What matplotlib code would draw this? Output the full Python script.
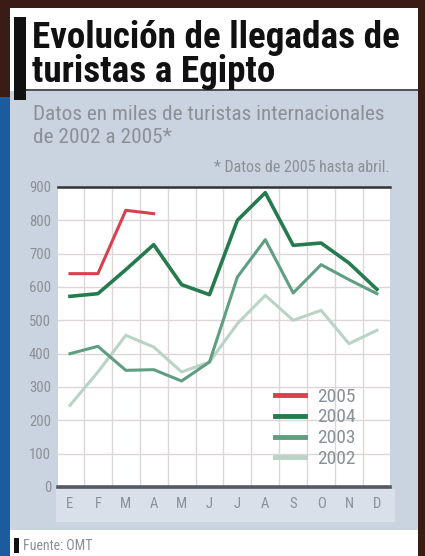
import matplotlib.pyplot as plt
from matplotlib.patches import Rectangle

# datos (miles de turistas)
meses = ['E', 'F', 'M', 'A', 'M', 'J', 'J', 'A', 'S', 'O', 'N', 'D']
y2005 = [640, 640, 830, 820]
y2004 = [572, 580, 652, 727, 607, 577, 800, 883, 725, 732, 672, 593]
y2003 = [400, 422, 350, 352, 318, 375, 630, 742, 582, 667, 622, 580]
y2002 = [245, 345, 455, 420, 345, 375, 490, 575, 500, 530, 430, 470]
yticks = [0, 100, 200, 300, 400, 500, 600, 700, 800, 900]

fuente = ['Roboto Condensed', 'DejaVu Sans']
gris = '#8a9098'

W, H = 425, 556
fig = plt.figure(figsize=(W / 100, H / 100), dpi=100)
fig.patch.set_facecolor('#3b1c14')


def box(x0, y0, x1, y1, color):
    fig.patches.append(Rectangle((x0 / W, 1 - y1 / H), (x1 - x0) / W, (y1 - y0) / H,
                                 transform=fig.transFigure, facecolor=color,
                                 edgecolor='none', zorder=-5))


box(0, 97, 10, 556, '#1c5c9c')
box(10, 8, 418, 556, 'white')
box(10, 91, 418, 530, '#cad4e0')
box(56, 489, 395, 522, '#d8e0ea')
box(14, 17, 26, 100, '#111111')
box(26, 89, 418, 91, '#555555')
box(14, 538, 19, 553, '#111111')

fig.text(32 / W, 1 - 48 / H, 'Evolución de llegadas de', family=fuente, weight='bold',
         fontsize=26.7, color='#111111')
fig.text(32 / W, 1 - 82 / H, 'turistas a Egipto', family=fuente, weight='bold',
         fontsize=26.7, color='#111111')
fig.text(33 / W, 1 - 120 / H, 'Datos en miles de turistas internacionales', family=fuente,
         fontsize=15.3, color=gris)
fig.text(33 / W, 1 - 143 / H, 'de 2002 a 2005*', family=fuente,
         fontsize=15.3, color=gris)
fig.text(390 / W, 1 - 172 / H, '* Datos de 2005 hasta abril.', family=fuente,
         fontsize=11.5, color=gris, ha='right')
fig.text(23 / W, 1 - 550 / H, 'Fuente: OMT', family=fuente,
         fontsize=10, color=gris)

ax = fig.add_axes([58 / W, 1 - 487 / H, 332 / W, 300 / H])
ax.set_zorder(2)
ax.set_facecolor('white')
x = list(range(12))
ax.plot(x, y2002, color='#b9d3c4', lw=2.2, label='2002', zorder=3)
ax.plot(x, y2003, color='#5f9e80', lw=2.2, label='2003', zorder=4)
ax.plot(x, y2004, color='#257a4e', lw=2.6, label='2004', zorder=5)
ax.plot(x[:len(y2005)], y2005, color='#d8404e', lw=2.2, label='2005', zorder=6)

ax.set_xlim(-0.43, 11.47)
ax.set_ylim(0, 900)
ax.set_xticks(x)
ax.set_xticklabels(meses)
ax.set_yticks(yticks)
ax.set_xticks([i + 0.5 for i in range(11)], minor=True)
ax.grid(True, which='minor', axis='x', color='#dcd6d8', lw=1)
ax.grid(True, which='major', axis='y', color='#dcd6d8', lw=1)
ax.tick_params(which='both', length=0, labelcolor=gris, labelsize=10.5, pad=5)
ax.tick_params(axis='x', pad=7)
for lbl in ax.get_xticklabels() + ax.get_yticklabels():
    lbl.set_family(fuente)
for s in ['left', 'right']:
    ax.spines[s].set_visible(False)
ax.spines['top'].set_color('#333333')
ax.spines['top'].set_linewidth(1.8)
ax.spines['bottom'].set_color('#555a60')
ax.spines['bottom'].set_linewidth(2.6)

h, l = ax.get_legend_handles_labels()
leg = ax.legend(h[::-1], l[::-1], loc='upper left', bbox_to_anchor=(257 / W, 1 - 370 / H),
                bbox_transform=fig.transFigure, frameon=False, handlelength=1.55,
                labelspacing=0.15, handletextpad=0.65, prop={'family': fuente, 'size': 14})
for t in leg.get_texts():
    t.set_color(gris)
for ln in leg.get_lines():
    ln.set_linewidth(3.5)

fig.savefig('out.png', dpi=100, facecolor=fig.get_facecolor())
